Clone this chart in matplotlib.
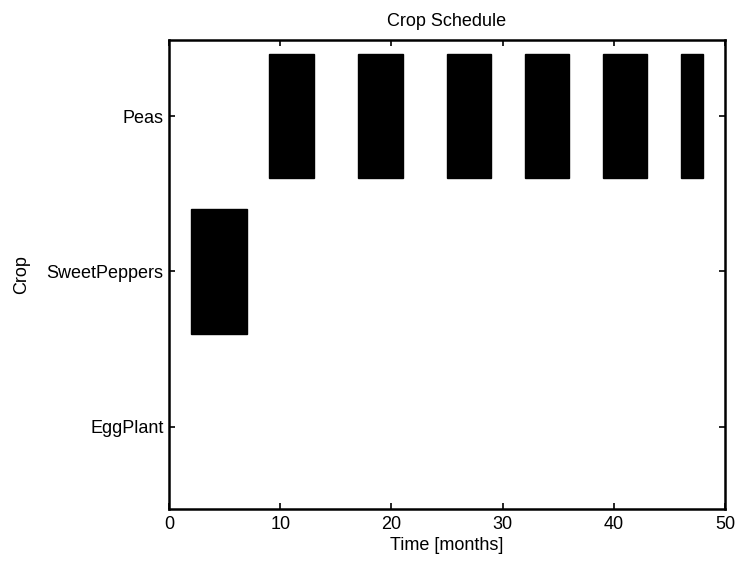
import matplotlib
matplotlib.use("Agg")
import matplotlib.pyplot as plt

crops = ["EggPlant", "SweetPeppers", "Peas"]
# start / end month of each planting
peas_start = [9, 17, 25, 32, 39, 46]
peas_end = [13, 21, 29, 36, 43, 48]
pepper_start = [2]
pepper_end = [7]
egg_start = []
egg_end = []
x_ticks = [0, 10, 20, 30, 40, 50]

plt.rcParams['font.family'] = ['Liberation Sans', 'DejaVu Sans']

fig = plt.figure(figsize=(7.36, 5.61), dpi=100)
ax = fig.add_axes([169/736, 1-509/561, (725-169)/736, (509-40)/561])

schedule = {
    "EggPlant": (egg_start, egg_end),
    "SweetPeppers": (pepper_start, pepper_end),
    "Peas": (peas_start, peas_end),
}
for i, c in enumerate(crops):
    s, e = schedule[c]
    for a, b in zip(s, e):
        ax.barh(i + 1, b - a, left=a, height=0.8, color='black', edgecolor='black')

ax.set_xlim(0, 50)
ax.set_ylim(0.47, 3.49)
ax.set_xticks(x_ticks)
ax.set_yticks([1, 2, 3])
ax.set_yticklabels(crops)
ax.tick_params(direction='in', top=True, right=True, length=4, width=1.2,
               labelsize=13)
ax.tick_params(axis='x', pad=5)
ax.tick_params(axis='y', pad=4)
for sp in ax.spines.values():
    sp.set_linewidth(1.8)
ax.set_title("Crop Schedule", fontsize=13, pad=10)
ax.set_xlabel("Time [months]", fontsize=13, labelpad=3)
ax.set_ylabel("Crop", fontsize=13, labelpad=12)

fig.savefig("out.png", dpi=100)
